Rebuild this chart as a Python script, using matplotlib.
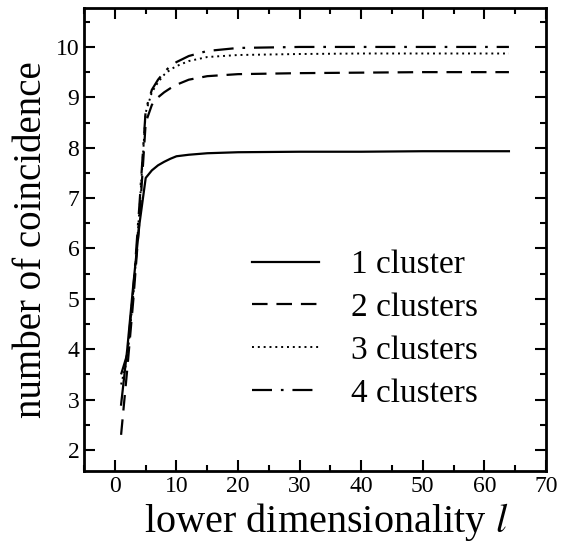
import numpy as np
import matplotlib
matplotlib.use("Agg")
import matplotlib.pyplot as plt
from matplotlib.ticker import MultipleLocator

plt.rcParams['font.family'] = ['Liberation Serif', 'DejaVu Serif']
plt.rcParams['mathtext.fontset'] = 'stix'

#%% data

dims = [1, 2, 3, 4, 5, 6, 7, 8, 9, 10, 12, 15, 20, 30, 40, 50, 64]

one_cluster   = [2.9, 4.0, 5.3, 6.5, 7.4, 7.55, 7.65, 7.72, 7.78, 7.83, 7.86, 7.89, 7.91, 7.92, 7.92, 7.93, 7.93]
two_clusters  = [2.3, 3.6, 5.0, 6.6, 8.5, 8.85, 9.0, 9.1, 9.18, 9.25, 9.35, 9.42, 9.46, 9.48, 9.49, 9.5, 9.5]
three_clusters = [3.3, 3.8, 5.1, 6.8, 8.7, 9.1, 9.3, 9.45, 9.55, 9.62, 9.72, 9.8, 9.84, 9.86, 9.87, 9.87, 9.87]
four_clusters = [3.5, 3.9, 5.2, 6.9, 8.75, 9.15, 9.35, 9.5, 9.62, 9.7, 9.82, 9.92, 9.98, 10.0, 10.0, 10.0, 10.0]

labels = ["1 cluster", "2 clusters", "3 clusters", "4 clusters"]

#%% plot

fig = plt.figure(figsize=(5.61, 5.44), dpi=100)
ax = fig.add_axes([0.150, 0.134, 0.823, 0.851])

ax.plot(dims, one_cluster, color='black', lw=1.6, linestyle='-', label=labels[0])
ax.plot(dims, two_clusters, color='black', lw=1.6, linestyle=(0, (7, 4)), label=labels[1])
ax.plot(dims, three_clusters, color='black', lw=1.4, linestyle=(0, (1, 2)), label=labels[2])
ax.plot(dims, four_clusters, color='black', lw=1.6, linestyle=(0, (9, 4, 1.2, 4)), label=labels[3])

ax.set(xlim=[-5, 70], ylim=[1.58, 10.77])
ax.xaxis.set_major_locator(MultipleLocator(10))
ax.xaxis.set_minor_locator(MultipleLocator(5))
ax.yaxis.set_major_locator(MultipleLocator(1))
ax.yaxis.set_minor_locator(MultipleLocator(0.5))
ax.tick_params(which='both', direction='in', top=True, right=True, width=1.5, labelsize=17)
ax.tick_params(which='major', length=8)
ax.tick_params(which='minor', length=4)
for sp in ax.spines.values():
    sp.set_linewidth(2)

ax.set_xlabel(r'lower dimensionality $l$', fontsize=29)
ax.xaxis.set_label_coords(0.524, -0.064)
ax.set_ylabel('number of coincidence', fontsize=28, labelpad=4)

ax.legend(frameon=False, fontsize=24, handlelength=2.0, handletextpad=0.95,
          labelspacing=0.37, borderpad=0, borderaxespad=0,
          loc='upper left', bbox_to_anchor=(0.364, 0.478))

fig.savefig('out.png', dpi=100)
